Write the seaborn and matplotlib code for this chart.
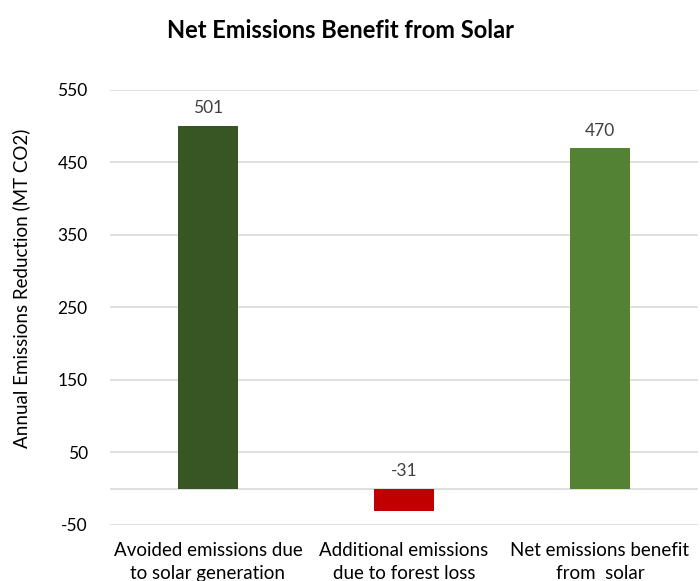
import matplotlib
matplotlib.use("Agg")
import matplotlib.pyplot as plt
import seaborn as sns
import pandas as pd

categories = ["Avoided emissions due\nto solar generation",
              "Additional emissions\ndue to forest loss",
              "Net emissions benefit\nfrom  solar"]
values = [501, -31, 470]
colors = ["#375623", "#C00000", "#548235"]
yticks = [-50, 50, 150, 250, 350, 450, 550]

sns.set_theme(style="white")
plt.rcParams['font.family'] = ['Lato', 'DejaVu Sans']

df = pd.DataFrame({"cat": categories, "val": values})

fig = plt.figure(figsize=(7, 5.81), dpi=100)
ax = fig.add_axes([0.157, 0.0964, 0.84, 0.7487])
sns.barplot(data=df, x="cat", y="val", hue="cat", palette=colors,
            width=0.31, legend=False, ax=ax, saturation=1, linewidth=0)

ax.set_ylim(-50, 550)
ax.set_yticks(yticks)
ax.set_yticklabels([str(t) for t in yticks], fontsize=12.5, color="#000000")
for t in yticks:
    ax.axhline(t, color="#d9d9d9", lw=1.2, zorder=0)
ax.axhline(0, color="#d9d9d9", lw=1.2, zorder=0)
for s in ax.spines.values():
    s.set_visible(False)
ax.tick_params(axis="y", length=0, pad=16)
ax.tick_params(axis="x", length=0, labelsize=13.5, pad=12)
for lab in ax.get_xticklabels():
    lab.set_color("#000000")
    lab.set_linespacing(1.45)
ax.set_xlabel("")
ax.set_ylabel("Annual Emissions Reduction (MT CO2)", fontsize=13.5, color="#000000")
ax.yaxis.set_label_coords(-0.135, 0.545)

for i, v in enumerate(values):
    y = v if v > 0 else 0
    ax.text(i, y + 13, str(v), ha="center", va="bottom", fontsize=12.5, color="#404040")

fig.text(0.487, 0.948, "Net Emissions Benefit from Solar", ha="center", va="center",
         fontsize=17, fontweight="bold", color="#000000")

fig.savefig("out.png", dpi=100)
